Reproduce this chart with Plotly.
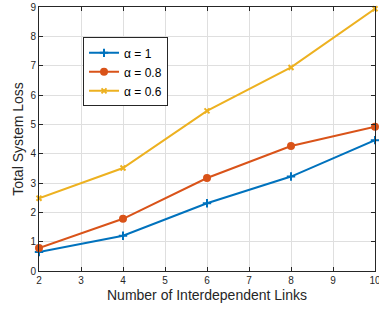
import plotly.graph_objects as go

links = [2, 4, 6, 8, 10]
loss_a1 = [0.65, 1.20, 2.31, 3.22, 4.46]
loss_a08 = [0.78, 1.78, 3.17, 4.26, 4.92]
loss_a06 = [2.48, 3.51, 5.46, 6.94, 8.94]
names = ["α = 1", "α = 0.8", "α = 0.6"]
colors = ["#0072BD", "#D95319", "#EDB120"]
symbols = ["cross-thin", "circle", "x-thin"]
sizes = [6, 6, 5]

fig = go.Figure()
for ys, n, c, s, sz in zip([loss_a1, loss_a08, loss_a06], names, colors, symbols, sizes):
    fig.add_trace(go.Scatter(
        x=links, y=ys, name=n, mode="lines+markers",
        line=dict(color=c, width=2),
        marker=dict(symbol=s, size=sz, color=c, line=dict(color=c, width=2)),
        cliponaxis=False,
    ))

axis_common = dict(
    showline=True, linecolor="#262626", linewidth=1, mirror="ticks",
    ticks="inside", ticklen=4, tickcolor="#262626",
    showgrid=True, gridcolor="#DFDFDF", gridwidth=1, zeroline=False,
    automargin=False, ticklabeloverflow="allow",
    tickfont=dict(family="Liberation Sans, Arial, sans-serif", size=10, color="#262626"),
    title_font=dict(family="Liberation Sans, Arial, sans-serif", size=14, color="#262626"),
)
fig.update_xaxes(range=[2, 10], dtick=1, title_text="Number of Interdependent Links",
                 title_standoff=5, **axis_common)
fig.update_yaxes(range=[0, 9], dtick=1, title_text="Total System Loss",
                 title_standoff=3, **axis_common)

fig.update_layout(
    width=379, height=310,
    margin=dict(l=39, r=4, t=7, b=39),
    plot_bgcolor="white", paper_bgcolor="white",
    legend=dict(x=0.131, y=0.885, xanchor="left", yanchor="top",
                bgcolor="white", bordercolor="#262626", borderwidth=1,
                font=dict(family="Liberation Sans, Arial, sans-serif", size=12, color="#000000"),
                tracegroupgap=0, itemwidth=30),
    showlegend=True,
)
fig.write_html("out.html", config={"displayModeBar": False},
               post_script="document.body.style.margin='0';document.body.style.padding='0';document.body.style.overflow='hidden';")
